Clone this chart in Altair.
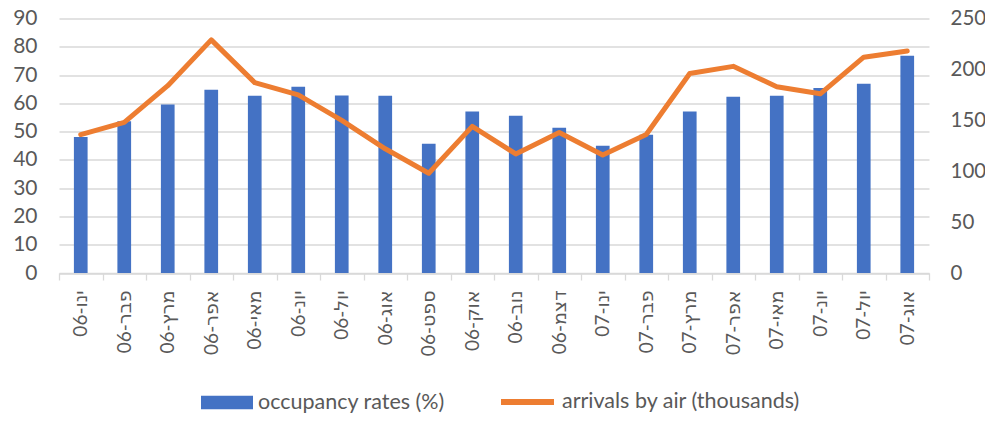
import altair as alt
import pandas as pd

months = ["ינו-06", "פבר-06", "מרץ-06", "אפר-06", "מאי-06", "יונ-06", "יול-06",
          "אוג-06", "ספט-06", "אוק-06", "נוב-06", "דצמ-06", "ינו-07", "פבר-07",
          "מרץ-07", "אפר-07", "מאי-07", "יונ-07", "יול-07", "אוג-07"]
occupancy = [48.1, 53.7, 59.6, 64.8, 62.7, 65.9, 62.8, 62.7, 45.7, 57.1,
             55.6, 51.4, 45.0, 48.9, 57.1, 62.3, 62.7, 65.4, 66.9, 76.8]
arrivals = [136, 148, 184, 229, 187, 175, 150, 122, 98, 144,
            117, 138, 116, 136, 196, 203, 183, 176, 212, 218]

s_occ = "occupancy rates (%)"
s_arr = "arrivals by air (thousands)"

df = pd.DataFrame({
    "month": months,
    "occupancy": occupancy,
    "arrivals": arrivals,
    "s1": [s_occ] * len(months),
    "s2": [s_arr] * len(months),
})

BLUE = "#4472C4"
ORANGE = "#ED7D31"
GRID = "#d9d9d9"
TXT = "#595959"
FONT = "Lato, DejaVu Sans"

x = alt.X("month:N", sort=months,
          scale=alt.Scale(domain=months, paddingInner=0, paddingOuter=0),
          axis=alt.Axis(title=None, labelAngle=270, labelFontSize=19, labelFont=FONT,
                        labelColor=TXT, labelPadding=10, tickBand="extent",
                        ticks=True, tickSize=7, tickColor=GRID, domainColor=GRID,
                        domainWidth=1.3, tickWidth=1.3, grid=False, labelOverlap=False))

bars = alt.Chart(df).mark_bar(width={"band": 0.315}).encode(
    x=x,
    y=alt.Y("occupancy:Q",
            scale=alt.Scale(domain=[0, 90], nice=False),
            axis=alt.Axis(title=None, values=list(range(0, 91, 10)), grid=True,
                          gridColor=GRID, gridWidth=1.3, ticks=False, domain=False,
                          labelFontSize=21, labelFont=FONT, labelColor=TXT,
                          labelPadding=22)),
    fill=alt.Fill("s1:N", scale=alt.Scale(domain=[s_occ], range=[BLUE]),
                  legend=alt.Legend(title=None, orient="none", legendX=142, legendY=358,
                                    symbolType="M-1,-0.26H1V0.26H-1Z", symbolSize=2704,
                                    symbolStrokeWidth=0, labelFontSize=21.5, labelFont=FONT,
                                    labelColor=TXT, labelOffset=5, labelLimit=400,
                                    padding=0)),
)

line = alt.Chart(df).mark_line(strokeWidth=5, strokeCap="round", strokeJoin="round").encode(
    x=x,
    y=alt.Y("arrivals:Q",
            scale=alt.Scale(domain=[0, 250], nice=False),
            axis=alt.Axis(title=None, orient="right", values=list(range(0, 251, 50)),
                          grid=False, ticks=False, domain=False, labelFontSize=20.5,
                          labelFont=FONT, labelColor=TXT, labelPadding=21)),
    stroke=alt.Stroke("s2:N", scale=alt.Scale(domain=[s_arr], range=[ORANGE]),
                      legend=alt.Legend(title=None, orient="none", legendX=439, legendY=354,
                                        symbolType="stroke", symbolSize=2809,
                                        symbolStrokeWidth=6, labelFontSize=21.5,
                                        labelFont=FONT, labelColor=TXT, labelOffset=5,
                                        labelLimit=400, padding=0)),
)

chart = alt.layer(bars, line).resolve_scale(y="independent").properties(
    width=870, height=254.5,
    autosize="none",
    padding={"left": 51, "top": 10.5, "right": 56, "bottom": 140},
).configure_view(stroke=None)

chart.save("out.html", embed_options={"renderer": "svg", "actions": False})
